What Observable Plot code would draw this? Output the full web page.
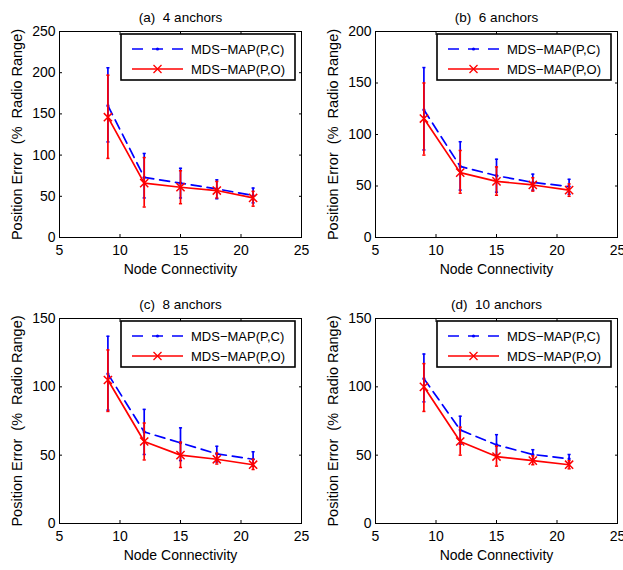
<!DOCTYPE html>
<html><head><meta charset="utf-8">
<script src="https://cdn.jsdelivr.net/npm/d3@7"></script>
<script src="https://cdn.jsdelivr.net/npm/@observablehq/plot@0.6"></script>
<style>
html,body{margin:0;padding:0;background:#fff;}
#wrap{position:relative;width:623px;height:570px;overflow:hidden;}
.panel{position:absolute;}
svg{display:block;}
</style></head><body><div id="wrap"></div>
<script>
// ---- data ----
const connectivity = [9, 12, 15, 18, 21];
const panelTitles = ["(a) \u00a04 anchors", "(b) \u00a06 anchors", "(c) \u00a08 anchors", "(d) \u00a010 anchors"];
const xTicks = [5, 10, 15, 20, 25];
const yMaxima = [250, 200, 150, 150];
const yTicks = [[0, 50, 100, 150, 200, 250], [0, 50, 100, 150, 200], [0, 50, 100, 150], [0, 50, 100, 150]];
const xLabel = "Node Connectivity";
const yLabel = "Position Error \u00a0(% \u00a0Radio Range)";
const seriesNames = ["MDS\u2212MAP(P,C)", "MDS\u2212MAP(P,O)"];

// MDS-MAP(P,C): mean, lower and upper error bar ends, one row per panel
const pcMean = [[160, 73, 66, 59, 51], [124, 69, 60, 53.5, 49.5], [109.5, 67, 59, 51, 47], [106, 68.5, 57.5, 50.5, 47.3]];
const pcLow  = [[116, 48, 48, 47, 42], [85, 46, 44, 46, 42], [83, 50.5, 46, 45, 42], [89, 58, 50, 47, 44]];
const pcHigh = [[206, 102, 84, 70, 60], [165, 93, 76, 61.5, 56.5], [137, 83.5, 70, 56.5, 52.5], [124, 78.5, 65, 54, 50.5]];
// MDS-MAP(P,O)
const poMean = [[146, 66, 61, 57, 48], [115.5, 63, 54.5, 51, 46], [105, 60, 50, 47, 43], [100, 60, 49, 46, 43]];
const poLow  = [[96, 37, 41, 48, 38], [80, 43, 41, 45, 40], [82, 46.5, 41, 43.5, 39.5], [82, 50, 42, 43, 40]];
const poHigh = [[197, 97, 81, 68, 56], [150, 84.5, 68.5, 58, 52], [127, 73.5, 59.5, 51.5, 47], [117, 70.5, 56.5, 49.5, 46]];

// ---- layout / style ----
const layout = [
  {left: 0,   top: 0,   width: 311, mL: 59, mR: 10, mT: 31, mB: 48},
  {left: 311, top: 0,   width: 312, mL: 64, mR: 6,  mT: 31, mB: 48},
  {left: 0,   top: 285, width: 311, mL: 59, mR: 10, mT: 33, mB: 47},
  {left: 311, top: 285, width: 312, mL: 64, mR: 6,  mT: 33, mB: 47}
];
const fontFamily = "'Liberation Sans', Arial, Helvetica, sans-serif";
const blue = "#0000ff", red = "#ff0000";
const colors = [blue, red];

function rows(i, mean, lo, hi) {
  return connectivity.map((x, j) => ({x, y: mean[i][j], lo: lo[i][j], hi: hi[i][j]}));
}

function legendMark(index, scales, values, dims) {
  const g = d3.create("svg:g");
  const w = 174, h = 46;
  const right = dims.width - dims.marginRight - 6;
  const left = right - w, top = dims.marginTop + 3;
  g.append("rect").attr("x", left).attr("y", top).attr("width", w).attr("height", h)
    .attr("fill", "white").attr("stroke", "black").attr("stroke-width", 1.6);
  seriesNames.forEach((name, k) => {
    const yy = top + 15 + 20 * k;
    const c = colors[k];
    g.append("line").attr("x1", left + 11).attr("x2", left + 62).attr("y1", yy).attr("y2", yy)
      .attr("stroke", c).attr("stroke-width", 1.7)
      .attr("stroke-dasharray", k === 0 ? "11,9" : null);
    const cx = left + 36.5;
    if (k === 0) {
      g.append("circle").attr("cx", cx).attr("cy", yy).attr("r", 1.6).attr("fill", c);
    } else {
      g.append("path").attr("d", `M${cx - 4},${yy - 4}L${cx + 4},${yy + 4}M${cx - 4},${yy + 4}L${cx + 4},${yy - 4}`)
        .attr("stroke", c).attr("stroke-width", 1.3).attr("fill", "none");
    }
    g.append("text").attr("x", left + 70).attr("y", yy).attr("dy", "0.35em")
      .attr("text-anchor", "start")
      .attr("font-size", 13).attr("font-family", fontFamily).attr("fill", "black").text(name);
  });
  return g.node();
}

function seriesMarks(data, color, isDashed) {
  const out = [
    Plot.ruleX(data, {x: "x", y1: "lo", y2: "hi", stroke: color, strokeWidth: 1.7}),
    Plot.link(data, {x1: d => d.x - 0.13, x2: d => d.x + 0.13, y1: "lo", y2: "lo", stroke: color, strokeWidth: 1.5}),
    Plot.link(data, {x1: d => d.x - 0.13, x2: d => d.x + 0.13, y1: "hi", y2: "hi", stroke: color, strokeWidth: 1.5}),
    Plot.line(data, {x: "x", y: "y", stroke: color, strokeWidth: 1.7, strokeDasharray: isDashed ? "10,6" : null})
  ];
  if (isDashed) out.push(Plot.dot(data, {x: "x", y: "y", r: 1.6, fill: color, stroke: null}));
  else out.push(Plot.dot(data, {x: "x", y: "y", symbol: "times", r: 3.8, stroke: color, strokeWidth: 1.5}));
  return out;
}

const wrap = document.getElementById("wrap");
panelTitles.forEach((title, i) => {
  const L = layout[i];
  const pc = rows(i, pcMean, pcLow, pcHigh);
  const po = rows(i, poMean, poLow, poHigh);
  const yT = yTicks[i];
  const chart = Plot.plot({
    width: L.width, height: 285,
    marginLeft: L.mL, marginRight: L.mR, marginTop: L.mT, marginBottom: L.mB,
    style: {fontFamily, fontSize: "14px", color: "black", background: "white", overflow: "visible"},
    x: {domain: [5, 25]},
    y: {domain: [0, yMaxima[i]]},
    marks: [
      Plot.axisX({anchor: "bottom", ticks: xTicks, tickSize: 0, tickPadding: 8, label: null, fontSize: 14}),
      Plot.axisX({anchor: "bottom", ticks: xTicks, tickSize: -3, tickFormat: () => "", label: null}),
      Plot.axisX({anchor: "top", ticks: xTicks, tickSize: -3, tickFormat: () => "", label: null}),
      Plot.axisY({anchor: "left", ticks: yT, tickSize: 0, tickPadding: 4, label: null, fontSize: 14}),
      Plot.axisY({anchor: "left", ticks: yT, tickSize: -3, tickFormat: () => "", label: null}),
      Plot.axisY({anchor: "right", ticks: yT, tickSize: -3, tickFormat: () => "", label: null}),
      ...seriesMarks(pc, blue, true),
      ...seriesMarks(po, red, false),
      Plot.frame({stroke: "black", strokeWidth: 1}),
      legendMark,
      Plot.text([title], {frameAnchor: "top", textAnchor: "middle", dy: -19.5, fontSize: 13.5}),
      Plot.text([xLabel], {frameAnchor: "bottom", textAnchor: "middle", dy: 36, fontSize: 14}),
      Plot.text([yLabel], {frameAnchor: "left", textAnchor: "middle", rotate: -90, dx: -42, fontSize: 14.5})
    ]
  });
  const div = document.createElement("div");
  div.className = "panel";
  div.style.left = L.left + "px";
  div.style.top = L.top + "px";
  div.appendChild(chart);
  wrap.appendChild(div);
});
</script>
</body></html>
